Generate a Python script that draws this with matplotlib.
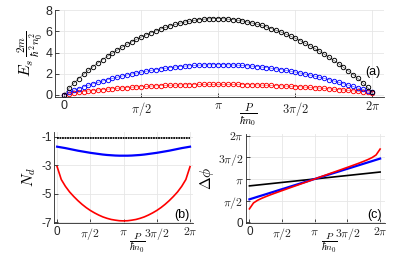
import numpy as np
import matplotlib
matplotlib.use("Agg")
import matplotlib.pyplot as plt

plt.rcParams["mathtext.fontset"] = "cm"
plt.rcParams["font.family"] = ["Liberation Sans", "DejaVu Sans"]
plt.rcParams["axes.unicode_minus"] = False

# ---- panel (a): energy, 65 samples over [0, 2pi] ----
p_a = np.linspace(0, 2 * np.pi, 65)
E_black = [0, 0.65, 1.12, 1.55, 1.95, 2.32, 2.68, 3.02, 3.34, 3.65, 3.94, 4.23, 4.50,
           4.76, 5.00, 5.24, 5.46, 5.66, 5.86, 6.04, 6.21, 6.37, 6.51, 6.64, 6.76,
           6.86, 6.95, 7.03, 7.09, 7.14, 7.17, 7.19, 7.20,
           7.18, 7.14, 7.10, 7.04, 6.97, 6.88, 6.78, 6.67, 6.55, 6.41, 6.26, 6.10,
           5.93, 5.74, 5.54, 5.34, 5.12, 4.88, 4.64, 4.39, 4.12, 3.84, 3.56, 3.26,
           2.94, 2.61, 2.27, 1.93, 1.56, 1.16, 0.72, 0.25]
E_blue = [0, 0.26, 0.44, 0.61, 0.77, 0.92, 1.06, 1.19, 1.32, 1.44, 1.56, 1.67, 1.78,
          1.88, 1.98, 2.07, 2.16, 2.24, 2.32, 2.39, 2.46, 2.52, 2.58, 2.63, 2.68,
          2.72, 2.75, 2.78, 2.81, 2.83, 2.84, 2.85, 2.85,
          2.85, 2.84, 2.83, 2.81, 2.78, 2.75, 2.72, 2.68, 2.63, 2.58, 2.52, 2.46,
          2.39, 2.32, 2.24, 2.16, 2.07, 1.98, 1.88, 1.78, 1.67, 1.56, 1.44, 1.32,
          1.19, 1.06, 0.93, 0.80, 0.66, 0.52, 0.40, 0.28]
E_red = [0, 0.12, 0.20, 0.26, 0.32, 0.37, 0.42, 0.47, 0.51, 0.55, 0.59, 0.63, 0.66,
         0.70, 0.73, 0.76, 0.78, 0.81, 0.84, 0.86, 0.88, 0.90, 0.92, 0.93, 0.95,
         0.96, 0.97, 0.98, 0.99, 0.99, 1.00, 1.00, 1.00,
         1.00, 1.00, 0.99, 0.99, 0.98, 0.97, 0.96, 0.95, 0.93, 0.92, 0.90, 0.88,
         0.86, 0.84, 0.81, 0.79, 0.77, 0.74, 0.71, 0.68, 0.65, 0.62, 0.58, 0.55,
         0.51, 0.47, 0.43, 0.39, 0.35, 0.31, 0.27, 0.22]

# ---- panels (b) and (c): 33 samples over [0, 2pi] ----
p_bc = np.linspace(0, 2 * np.pi, 33)
Nd_black = [-1.08, -1.08, -1.08, -1.08, -1.08, -1.08, -1.08, -1.08, -1.08, -1.08, -1.08,
            -1.08, -1.08, -1.08, -1.08, -1.08, -1.08, -1.08, -1.08, -1.08, -1.08, -1.08,
            -1.08, -1.08, -1.08, -1.08, -1.08, -1.08, -1.08, -1.08, -1.08, -1.08, -1.08]
Nd_blue = [-1.70, -1.75, -1.80, -1.86, -1.92, -1.98, -2.03, -2.08, -2.13, -2.17, -2.21,
           -2.25, -2.28, -2.30, -2.32, -2.33, -2.33, -2.33, -2.32, -2.30, -2.28, -2.25,
           -2.21, -2.17, -2.13, -2.08, -2.03, -1.98, -1.92, -1.86, -1.80, -1.75, -1.70]
Nd_red = [-3.10, -4.00, -4.48, -4.87, -5.19, -5.48, -5.74, -5.97, -6.17, -6.34, -6.49,
          -6.62, -6.72, -6.80, -6.85, -6.89, -6.90, -6.89, -6.85, -6.80, -6.72, -6.62,
          -6.49, -6.34, -6.17, -5.97, -5.74, -5.48, -5.19, -4.87, -4.48, -4.00, -3.10]

# phase jump, in units of pi
dphi_black = [0.84, 0.85, 0.86, 0.87, 0.88, 0.89, 0.90, 0.91, 0.92, 0.93, 0.94, 0.95,
              0.96, 0.97, 0.98, 0.99, 1.00, 1.01, 1.02, 1.03, 1.04, 1.05, 1.06, 1.07,
              1.08, 1.09, 1.10, 1.11, 1.12, 1.13, 1.14, 1.15, 1.16]
dphi_blue = [0.530, 0.559, 0.589, 0.618, 0.647, 0.677, 0.706, 0.736, 0.765, 0.794, 0.824,
             0.853, 0.882, 0.912, 0.941, 0.971, 1.000, 1.029, 1.059, 1.088, 1.118, 1.147,
             1.176, 1.206, 1.235, 1.264, 1.294, 1.323, 1.353, 1.382, 1.411, 1.441, 1.470]
dphi_red = [0.310, 0.447, 0.508, 0.553, 0.592, 0.629, 0.664, 0.698, 0.732, 0.765, 0.799,
            0.832, 0.865, 0.899, 0.932, 0.966, 1.000, 1.034, 1.068, 1.101, 1.135, 1.168,
            1.201, 1.235, 1.268, 1.302, 1.336, 1.371, 1.408, 1.447, 1.492, 1.553, 1.690]

pi_ticks = [0, np.pi / 2, np.pi, 3 * np.pi / 2, 2 * np.pi]
pi_labels = ["0", r"$\pi/2$", r"$\pi$", r"$3\pi/2$", r"$2\pi$"]
axis_color = "#262626"


def style(ax, fs):
    for side in ["top", "right"]:
        ax.spines[side].set_visible(False)
    for side in ["left", "bottom"]:
        ax.spines[side].set_color(axis_color)
        ax.spines[side].set_linewidth(0.6)
    ax.grid(True, color="#e6e6e6", linewidth=0.6)
    ax.set_axisbelow(True)
    ax.tick_params(direction="in", length=3, width=0.6, colors=axis_color,
                   labelsize=fs, pad=2)


fig = plt.figure(figsize=(4.15, 2.58), dpi=100)

# (a)
ax_a = fig.add_axes([0.1325, 0.624, 0.793, 0.337])
for vals, c in [(E_red, "red"), (E_blue, "blue"), (E_black, "black")]:
    ax_a.plot(p_a, vals, color=c, linewidth=0.5, alpha=0.6)
    ax_a.plot(p_a, vals, linestyle="none", marker="o", markersize=3.2,
              markerfacecolor="none", markeredgecolor=c, markeredgewidth=0.65)
ax_a.set_xlim(-0.19, 2 * np.pi + 0.24)
ax_a.set_ylim(-0.19, 8)
ax_a.set_xticks(pi_ticks)
ax_a.set_xticklabels(pi_labels)
ax_a.set_yticks([0, 2, 4, 6, 8])
style(ax_a, 9)
ax_a.set_ylabel(r"$E_s\,\frac{2m}{\hbar^2 n_0^2}$", fontsize=11.5)
ax_a.yaxis.set_label_coords(-0.03, 0.5)
ax_a.text(0.587, -0.21, r"$\frac{P}{\hbar n_0}$", transform=ax_a.transAxes,
          ha="center", va="center", fontsize=11)
ax_a.text(373, 258 - 72, "(a)", transform=None, fontsize=9, ha="center", va="center")

# (b)
ax_b = fig.add_axes([0.131, 0.1345, 0.334, 0.355])
ax_b.plot(p_bc, Nd_black, color="black", linewidth=1.3, linestyle=(0, (1, 0.4)))
ax_b.plot(p_bc, Nd_blue, color="blue", linewidth=1.6)
ax_b.plot(p_bc, Nd_red, color="red", linewidth=1.2)
ax_b.set_xlim(-0.13, 2 * np.pi + 0.14)
ax_b.set_ylim(-7.07, -0.65)
ax_b.set_xticks(pi_ticks)
ax_b.set_xticklabels(pi_labels)
ax_b.set_yticks([-1, -3, -5, -7])
style(ax_b, 8.5)
ax_b.set_ylabel(r"$N_d$", fontsize=11)
ax_b.yaxis.set_label_coords(-0.12, 0.5)
ax_b.text(0.6, -0.22, r"$\frac{P}{\hbar n_0}$", transform=ax_b.transAxes,
          ha="center", va="center", fontsize=10)
ax_b.text(182, 258 - 215, "(b)", transform=None, fontsize=9, ha="center", va="center")

# (c)
ax_c = fig.add_axes([0.593, 0.1357, 0.335, 0.344])
ax_c.plot(p_bc, np.pi * np.array(dphi_black), color="black", linewidth=1.2)
ax_c.plot(p_bc, np.pi * np.array(dphi_blue), color="blue", linewidth=1.6)
ax_c.plot(p_bc, np.pi * np.array(dphi_red), color="red", linewidth=1.2)
ax_c.set_xlim(-0.16, 2 * np.pi + 0.24)
ax_c.set_ylim(-0.05, 2 * np.pi + 0.1)
ax_c.set_xticks(pi_ticks)
ax_c.set_xticklabels(pi_labels)
ax_c.set_yticks(pi_ticks)
ax_c.set_yticklabels(pi_labels)
style(ax_c, 8.5)
ax_c.set_ylabel(r"$\Delta\phi$", fontsize=11)
ax_c.yaxis.set_label_coords(-0.22, 0.5)
ax_c.text(0.6, -0.225, r"$\frac{P}{\hbar n_0}$", transform=ax_c.transAxes,
          ha="center", va="center", fontsize=10)
ax_c.text(374, 258 - 215, "(c)", transform=None, fontsize=9, ha="center", va="center")

fig.savefig("out.png", dpi=100)
